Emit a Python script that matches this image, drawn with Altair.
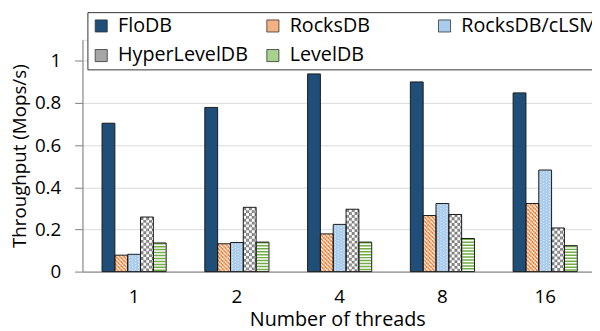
import altair as alt
import pandas as pd

threads = ["1", "2", "4", "8", "16"]
series = ["FloDB", "RocksDB", "RocksDB/cLSM", "HyperLevelDB", "LevelDB"]
flodb = [0.704, 0.779, 0.938, 0.900, 0.848]
rocksdb = [0.078, 0.132, 0.179, 0.266, 0.323]
clsm = [0.082, 0.138, 0.224, 0.323, 0.482]
hyperleveldb = [0.259, 0.305, 0.296, 0.271, 0.207]
leveldb = [0.136, 0.140, 0.140, 0.157, 0.123]
y_ticks = [0, 0.2, 0.4, 0.6, 0.8, 1.0]

legend_colors = ["#1F4E79", "#F4B183", "#A9CCEC", "#A6A6A6", "#A9D18E"]
ORANGE = "#ED7D31"
GRAY = "#7F7F7F"
GREEN = "#70AD47"
FONT = "Open Sans"

NC = 9  # pattern columns per bar
values = [flodb, rocksdb, clsm, hyperleveldb, leveldb]
rows, subrows = [], []
for s, vals in zip(series, values):
    for t, v in zip(threads, vals):
        rows.append({"threads": t, "series": s, "value": v})
        for k in range(NC):
            subrows.append({"threads": t, "series": s, "k": k, "sub": f"{s}#{k}", "value": v})
df = pd.DataFrame(rows)
dfs = pd.DataFrame(subrows)
sub_domain = [f"{s}#{k}" for s in series for k in range(NC)]

x_enc = alt.X(
    "threads:N", sort=threads,
    scale=alt.Scale(paddingInner=0.376, paddingOuter=0.167, align=0.57),
    axis=alt.Axis(title="Number of threads", labelAngle=0, ticks=False,
                  labelFontSize=19, titleFontSize=20, labelPadding=16,
                  titlePadding=4, domainColor="#7F7F7F", labelColor="black",
                  titleColor="black", titleFontWeight="normal", grid=False),
)
y_enc = alt.Y(
    "value:Q", scale=alt.Scale(domain=[0, 1.1], nice=False),
    axis=alt.Axis(title="Throughput (Mops/s)", values=y_ticks, format="~g",
                  labelFontSize=19, titleFontSize=19, tickSize=8, tickColor="#7F7F7F",
                  domainColor="#7F7F7F", gridColor="#D9D9D9", labelPadding=14,
                  labelColor="black", titleColor="black", titleFontWeight="normal",
                  titleX=-54),
)
series_off = alt.XOffset("series:N", sort=series,
                         scale=alt.Scale(domain=series, paddingInner=0, paddingOuter=0))
sub_off = alt.XOffset("sub:N", scale=alt.Scale(domain=sub_domain, paddingInner=0, paddingOuter=0))
zero = alt.datum(0)

base = alt.Chart(df).mark_bar(strokeWidth=0).encode(
    x=x_enc, y=y_enc, xOffset=series_off,
    fill=alt.Fill("series:N", sort=series,
                  scale=alt.Scale(domain=series, range=legend_colors),
                  legend=alt.Legend(
                      title=None, orient="none", legendX=5, legendY=-28,
                      direction="horizontal", columns=3, symbolType="square",
                      symbolSize=150, symbolStrokeColor="#333333", symbolStrokeWidth=0.8,
                      labelFontSize=20, labelFont=FONT, labelColor="black",
                      labelOffset=7, columnPadding=9, rowPadding=10, padding=4,
                      fillColor="white", strokeColor="#333333", gridAlign="all",
                      labelLimit=300)),
)

white = alt.Chart(df).transform_filter(
    alt.FieldOneOfPredicate(field="series", oneOf=["RocksDB", "HyperLevelDB", "LevelDB"])
).mark_rule(color="white", strokeWidth=13).encode(x=x_enc, y=y_enc, y2=zero, xOffset=series_off)

layers = [base, white]

cw = 65 / 5 / NC
# RocksDB diagonal hatch
for k in range(NC):
    off = (-k * cw) % 4
    layers.append(
        alt.Chart(dfs).transform_filter(alt.datum.sub == f"RocksDB#{k}")
        .mark_rule(color=ORANGE, strokeWidth=cw + 0.1, strokeDash=[2.2, 1.8], strokeDashOffset=off)
        .encode(x=x_enc, y=y_enc, y2=zero, xOffset=sub_off)
    )
# HyperLevelDB checkerboard
for phase in (0, 1):
    ks = [f"HyperLevelDB#{k}" for k in range(NC) if (k // 2) % 2 == phase]
    layers.append(
        alt.Chart(dfs).transform_filter(alt.FieldOneOfPredicate(field="sub", oneOf=ks))
        .mark_rule(color=GRAY, strokeWidth=cw + 0.1, strokeDash=[2.9, 2.9],
                   strokeDashOffset=2.9 * phase)
        .encode(x=x_enc, y=y_enc, y2=zero, xOffset=sub_off)
    )
# cLSM white dots
for phase in (0, 1):
    ks = [f"RocksDB/cLSM#{k}" for k in range(NC) if k % 2 == 1 and (k // 2) % 2 == phase]
    layers.append(
        alt.Chart(dfs).transform_filter(alt.FieldOneOfPredicate(field="sub", oneOf=ks))
        .mark_rule(color="white", strokeWidth=1, strokeDash=[1, 1.9],
                   strokeDashOffset=1.45 * phase, opacity=0.85)
        .encode(x=x_enc, y=y_enc, y2=zero, xOffset=sub_off)
    )
# LevelDB horizontal stripes
layers.append(
    alt.Chart(df).transform_filter(alt.datum.series == "LevelDB")
    .mark_rule(color=GREEN, strokeWidth=12, strokeDash=[1.5, 1.5])
    .encode(x=x_enc, y=y_enc, y2=zero, xOffset=series_off)
)
# outlines
layers.append(
    alt.Chart(df).mark_bar(fill="transparent", stroke="#1A1A1A", strokeWidth=1)
    .encode(x=x_enc, y=y_enc, xOffset=series_off)
)

chart = alt.layer(*layers).resolve_scale(xOffset="independent").properties(
    width=516.5, height=235,
    autosize=alt.AutoSizeParams(type="none"),
    padding={"left": 75.5, "top": 30, "right": 0, "bottom": 58},
    background="white",
).configure_view(stroke=None).configure(font=FONT)

chart.save("out.html", embed_options={"renderer": "svg", "actions": False})
